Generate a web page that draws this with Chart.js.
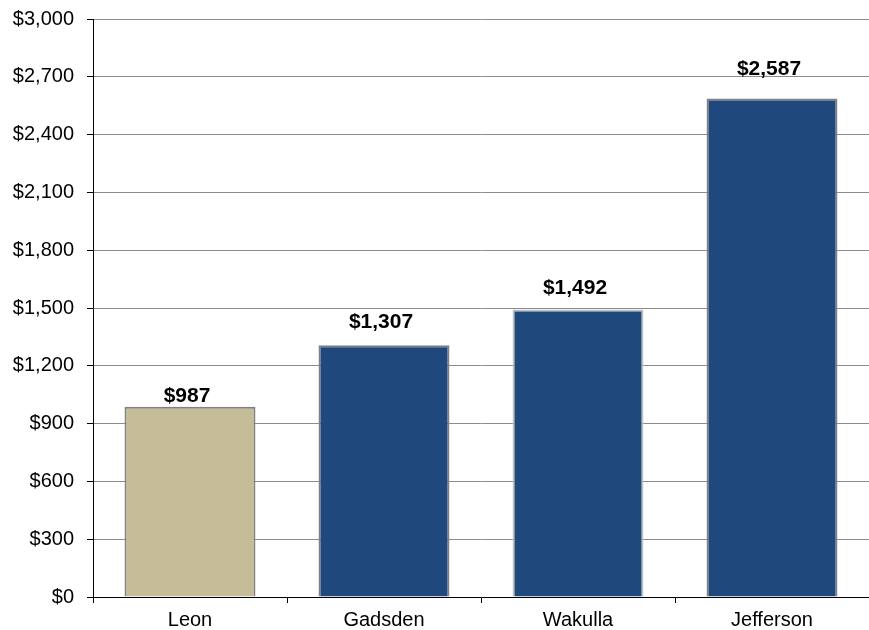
<!DOCTYPE html>
<html>
<head>
<meta charset="utf-8">
<script src="https://cdn.jsdelivr.net/npm/chart.js@4/dist/chart.umd.min.js"></script>
<style>
  html, body { margin: 0; padding: 0; background: #fff; }
  #wrap { width: 869px; height: 630px; position: relative; }
</style>
</head>
<body>
<div id="wrap"><canvas id="costChart"></canvas></div>
<script>
// data
const counties = ['Leon', 'Gadsden', 'Wakulla', 'Jefferson'];
const costs = [987, 1307, 1492, 2587];
const barColors = ['#C4BD97', '#1F497D', '#1F497D', '#1F497D'];
const edgeColors = ['#808080', '#808080', '#BFBFBF', '#808080'];

// value labels were nudged by hand in the original, so gaps differ per bar
const labelGaps = [5, 17, 16, 24];

const FONT = "'Liberation Sans', Arial, sans-serif";

function money(v) {
    return '$' + v.toLocaleString('en-US');
}

// value labels above bars
const topLabels = {
    id: 'topLabels',
    afterDatasetsDraw(chart) {
        const ctx = chart.ctx;
        const meta = chart.getDatasetMeta(0);
        ctx.save();
        ctx.font = 'bold 21px ' + FONT;
        ctx.fillStyle = '#000';
        ctx.textAlign = 'center';
        ctx.textBaseline = 'alphabetic';
        meta.data.forEach((bar, i) => {
            ctx.fillText(money(costs[i]), bar.x - 3, bar.y - labelGaps[i]);
        });
        ctx.restore();
    }
};

const ctx = document.getElementById('costChart').getContext('2d');
new Chart(ctx, {
    type: 'bar',
    data: {
        labels: counties,
        datasets: [{
            data: costs,
            backgroundColor: barColors,
            borderColor: edgeColors,
            borderWidth: 2,
            categoryPercentage: 1,
            barPercentage: 0.675
        }]
    },
    options: {
        responsive: true,
        maintainAspectRatio: false,
        animation: false,
        layout: { padding: { top: 19, right: 0, left: 0, bottom: 0 } },
        plugins: {
            legend: { display: false },
            tooltip: { enabled: false }
        },
        scales: {
            y: {
                min: 0,
                max: 3000,
                afterFit(scale) {
                    scale.width = 93;
                    scale.paddingTop = 0;
                    scale.paddingBottom = 0;
                },
                ticks: {
                    stepSize: 300,
                    padding: 13,
                    color: '#000',
                    font: { family: FONT, size: 20 },
                    callback: (v) => money(v)
                },
                grid: {
                    color: '#8c8c8c',
                    lineWidth: 1,
                    tickLength: 6,
                    tickColor: '#000'
                },
                border: { color: '#000', width: 1 }
            },
            x: {
                afterFit(scale) { scale.height = 33; },
                ticks: {
                    padding: 5,
                    color: '#000',
                    font: { family: FONT, size: 20 }
                },
                grid: {
                    drawOnChartArea: false,
                    tickLength: 6,
                    tickColor: '#000'
                },
                border: { color: '#000', width: 1 }
            }
        }
    },
    plugins: [topLabels]
});
</script>
</body>
</html>
